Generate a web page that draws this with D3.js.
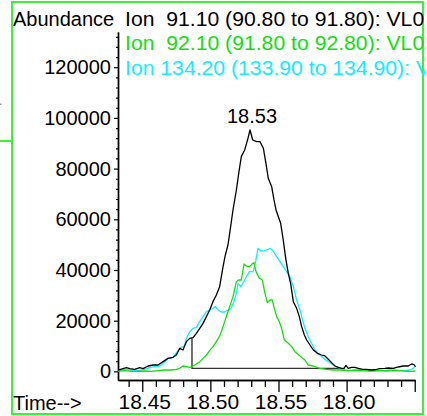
<!DOCTYPE html>
<html><head><meta charset="utf-8">
<script src="https://cdn.jsdelivr.net/npm/d3@7"></script>
<style>
html,body{margin:0;padding:0;background:#fff;}
svg{display:block;font-family:"Liberation Sans",Arial,sans-serif;}
text{white-space:pre;}
</style></head>
<body>
<script>
// ---- data ----
const ion91Time = [18.4322,18.4384,18.4408,18.4445,18.4481,18.4506,18.4543,18.4579,18.4616,18.4653,18.4689,18.4726,18.4750,18.4775,18.4799,18.4824,18.4848,18.4873,18.4897,18.4922,18.4946,18.4971,18.4995,18.5019,18.5044,18.5068,18.5093,18.5110,18.5129,18.5147,18.5166,18.5191,18.5208,18.5227,18.5252,18.5276,18.5291,18.5311,18.5340,18.5364,18.5389,18.5408,18.5425,18.5450,18.5467,18.5482,18.5499,18.5516,18.5535,18.5553,18.5572,18.5589,18.5609,18.5633,18.5653,18.5670,18.5690,18.5707,18.5731,18.5756,18.5785,18.5817,18.5841,18.5866,18.5890,18.5915,18.5939,18.5963,18.5981,18.5995,18.6012,18.6037,18.6061,18.6086,18.6118,18.6147,18.6184,18.6220,18.6245,18.6281,18.6306,18.6342,18.6379,18.6416,18.6453,18.6477,18.6494,18.6506];
const ion91Abund = [550,1470,1080,820,1470,1080,2130,2520,2520,3840,5150,5550,6470,9100,8440,11730,13040,13310,15020,16990,18960,21590,24220,27510,30140,33430,41320,45920,49870,56440,63670,71560,78120,84710,87340,91940,95230,91290,90630,90630,88000,82080,76160,72880,67620,63670,61040,58410,51840,44600,38690,34740,27510,24880,21590,17650,14360,12390,10410,8440,7130,6470,6080,4760,3450,2130,1600,1210,1210,2390,1210,1600,1600,1210,820,820,550,820,1080,1210,1340,1210,1740,2130,2130,2920,2650,1870];

const ion92Time = [18.4322,18.4371,18.4420,18.4469,18.4518,18.4567,18.4616,18.4665,18.4714,18.4750,18.4775,18.4799,18.4824,18.4848,18.4873,18.4897,18.4922,18.4946,18.4971,18.4995,18.5019,18.5044,18.5068,18.5085,18.5105,18.5125,18.5142,18.5166,18.5191,18.5208,18.5227,18.5247,18.5264,18.5288,18.5306,18.5320,18.5335,18.5357,18.5381,18.5401,18.5418,18.5438,18.5455,18.5469,18.5487,18.5506,18.5523,18.5543,18.5572,18.5597,18.5621,18.5658,18.5694,18.5719,18.5756,18.5804,18.5853,18.5902,18.5951,18.6000,18.6049,18.6098,18.6147,18.6196,18.6245,18.6294,18.6342,18.6391,18.6440,18.6477,18.6506];
const ion92Abund = [0,290,0,0,160,0,290,550,550,820,1210,2130,1870,1600,2130,2920,3840,5150,6470,8180,9760,11730,13970,16330,19620,22910,25540,29480,35400,36060,36060,42370,41580,41320,42370,42900,39350,36980,36060,30800,27120,28170,28170,24880,21590,19620,16990,12390,11070,9760,7780,6080,4500,2520,2130,1210,820,550,550,290,290,290,290,290,290,160,290,290,30,0,160];

const ion134Time = [18.4322,18.4371,18.4420,18.4469,18.4518,18.4555,18.4591,18.4628,18.4660,18.4689,18.4726,18.4758,18.4782,18.4807,18.4824,18.4848,18.4873,18.4897,18.4922,18.4946,18.4971,18.4995,18.5019,18.5037,18.5056,18.5081,18.5105,18.5129,18.5154,18.5173,18.5191,18.5203,18.5222,18.5240,18.5264,18.5288,18.5313,18.5330,18.5350,18.5369,18.5399,18.5442,18.5462,18.5487,18.5511,18.5535,18.5560,18.5584,18.5609,18.5633,18.5658,18.5677,18.5694,18.5719,18.5743,18.5768,18.5804,18.5841,18.5878,18.5915,18.5951,18.5988,18.6025,18.6061,18.6098,18.6134,18.6171,18.6208,18.6245,18.6281,18.6318,18.6355,18.6391,18.6428,18.6465,18.6489,18.6506];
const ion134Abund = [290,820,550,290,820,1600,1870,2130,3450,5150,5550,7780,9490,9760,13040,15670,16990,17380,19620,21590,23560,24220,24880,25540,24220,23430,23430,24220,25140,27510,30800,34740,33430,34740,37370,39350,39350,42630,48550,47500,47630,48550,47230,45260,43290,41320,39350,37370,33430,28170,24220,20280,16990,13700,11070,8440,6470,4760,3450,2130,1210,550,290,820,820,290,0,0,290,290,550,550,290,290,550,1210,2130];

// integration baseline of the 91.10 peak: [start time, end time], [top of drop line, baseline level]
const baseTime = [18.4865, 18.5951];
const baseAbund = [13040, 1210];

const peakLabel = {time: 18.5291, abund: 95230, text: "18.53"};
const legendTexts = ["Ion  91.10 (90.80 to 91.80): VL0", "Ion  92.10 (91.80 to 92.80): VL0", "Ion 134.20 (133.90 to 134.90): VL0"];
const seriesColors = ["#000000", "#10e010", "#10eeff"];
const yMajorTicks = [0,20000,40000,60000,80000,100000,120000];
const xMajorTicks = [18.45,18.50,18.55,18.60,18.65];
const xTickLabels = ["18.45","18.50","18.55","18.60"];

// ---- drawing ----
const W = 427, H = 416;
const svg = d3.select("body").append("svg").attr("width", W).attr("height", H);

svg.append("defs").append("clipPath").attr("id","clipAll")
  .append("rect").attr("x",0).attr("y",0).attr("width",425).attr("height",H);

const x = d3.scaleLinear().domain([18.4322, 18.6502]).range([118, 415]);
const y = d3.scaleLinear().domain([0, 120000]).range([371.4, 67.2]);
const yAx = y.copy().domain([y.invert(380), y.invert(32)]).range([380, 32]);

// frame
svg.append("rect").attr("x",12).attr("y",2).attr("width",411).attr("height",412)
  .attr("fill","none").attr("stroke","#3cf03c").attr("stroke-width",2);
svg.append("line").attr("x1",0).attr("x2",12).attr("y1",141).attr("y2",141)
  .attr("stroke","#3cf03c").attr("stroke-width",2);
svg.append("rect").attr("x",0).attr("y",103.5).attr("width",1.5).attr("height",1.5).attr("fill","#999");

const g = svg.append("g").attr("clip-path","url(#clipAll)");

// y axis
const yMinor = d3.range(0, 133000, 4000).filter(v => v % 20000 !== 0);
g.append("g").attr("transform","translate(118,0)")
  .call(d3.axisLeft(yAx).tickValues(yMinor).tickSize(2).tickSizeOuter(0).tickFormat(""))
  .call(a => a.selectAll("line,path").attr("stroke","#000").attr("stroke-width",1.2));
g.append("g").attr("transform","translate(118,0)")
  .call(d3.axisLeft(yAx).tickValues(yMajorTicks).tickSize(4).tickPadding(3).tickSizeOuter(0).tickFormat(d3.format("d")))
  .call(a => a.select("path").attr("stroke","#000").attr("stroke-width",1.6))
  .call(a => a.selectAll("line").attr("stroke","#000").attr("stroke-width",1.2))
  .call(a => a.selectAll("text").attr("font-size",20).attr("fill","#000").attr("font-family","Liberation Sans, Arial, sans-serif"));

// x axis
const xMinor = d3.range(0, 22).map(i => +(18.44 + i*0.01).toFixed(2)).filter(v => !xMajorTicks.some(m => Math.abs(m-v) < 1e-6));
g.append("g").attr("transform","translate(0,380)")
  .call(d3.axisBottom(x).tickValues(xMinor).tickSize(7).tickSizeOuter(0).tickFormat(""))
  .call(a => a.selectAll("line,path").attr("stroke","#000").attr("stroke-width",1.3));
g.append("g").attr("transform","translate(0,380)")
  .call(d3.axisBottom(x).tickValues(xMajorTicks).tickSize(12).tickPadding(3).tickSizeOuter(0)
    .tickFormat((d,i) => xTickLabels[i] || ""))
  .call(a => a.select("path").attr("stroke","#000").attr("stroke-width",1.6))
  .call(a => a.selectAll("line").attr("stroke","#000").attr("stroke-width",1.3))
  .call(a => a.selectAll("text").attr("font-size",20).attr("fill","#000").attr("font-family","Liberation Sans, Arial, sans-serif")
    .attr("transform","translate(2,0) scale(1.05,1)"));

// baseline marker
g.append("path")
  .attr("d", d3.line()([[x(baseTime[0]), y(baseAbund[0])],[x(baseTime[0]), y(baseAbund[1])],[x(baseTime[1]), y(baseAbund[1])]]))
  .attr("fill","none").attr("stroke","#333").attr("stroke-width",1.4);

// series
const series = [
  {t: ion134Time, v: ion134Abund, c: seriesColors[2]},
  {t: ion92Time, v: ion92Abund, c: seriesColors[1]},
  {t: ion91Time, v: ion91Abund, c: seriesColors[0]}
];
const line = d3.line().x(d => x(d[0])).y(d => y(d[1]));
series.forEach(s => {
  g.append("path").attr("d", line(s.t.map((t,i) => [t, s.v[i]])))
    .attr("fill","none").attr("stroke", s.c).attr("stroke-width",1.3).attr("stroke-linejoin","round");
});

// peak label
g.append("text").attr("x", x(peakLabel.time) + 2).attr("y", y(peakLabel.abund) - 7)
  .attr("text-anchor","middle").attr("font-size",20).text(peakLabel.text);

// titles / legend
g.append("text").attr("x",13).attr("y",25.5).attr("font-size",20).text("Abundance");
legendTexts.forEach((t,i) => {
  g.append("text").attr("transform", `translate(125,${[25.5,50,75][i]}) scale(1.06,1)`).attr("font-size",20)
    .attr("fill", seriesColors[i]).text(t);
});
g.append("text").attr("x",13).attr("y",410).attr("font-size",20).text("Time-->");
</script>
</body></html>
